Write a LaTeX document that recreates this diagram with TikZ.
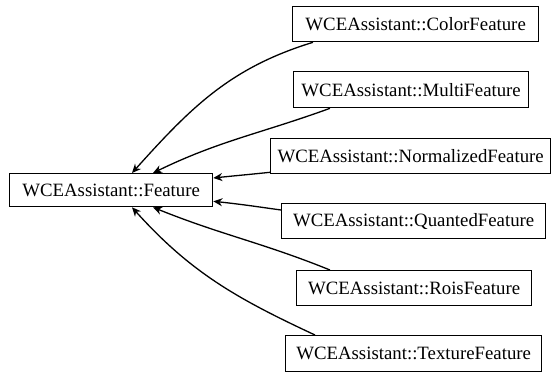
\documentclass[tikz,border=0pt]{standalone}
\usepackage{fontspec}
\setmainfont{Liberation Serif}
\usetikzlibrary{arrows.meta}
\begin{document}
\begin{tikzpicture}[x=1pt,y=-1pt,
  cls/.style={draw, line width=1.3pt, inner sep=0pt, font=\fontsize{18.8}{22}\selectfont, anchor=north west},
  inh/.style={line width=1.3pt, -{Stealth[length=9pt,width=8pt]}}]
\useasboundingbox (0,0) rectangle (557,373);
\node[cls, minimum width=203pt, minimum height=33pt] (base) at (9,173) {WCEAssistant::Feature};
\node[cls, minimum width=246pt, minimum height=35pt] (color) at (292,6) {WCEAssistant::ColorFeature};
\node[cls, minimum width=235pt, minimum height=36pt] (multi) at (293,71) {WCEAssistant::MultiFeature};
\node[cls, minimum width=280pt, minimum height=35pt] (norm) at (270,138) {WCEAssistant::NormalizedFeature};
\node[cls, minimum width=264pt, minimum height=35pt] (quant) at (281,203) {WCEAssistant::QuantedFeature};
\node[cls, minimum width=235pt, minimum height=35pt] (rois) at (296,270) {WCEAssistant::RoisFeature};
\node[cls, minimum width=256pt, minimum height=36pt] (tex) at (285,335) {WCEAssistant::TextureFeature};
\draw[inh] ([xshift=21pt]color.south west) to[out=197,in=48] ([xshift=123pt]base.north west);
\draw[inh] ([xshift=37pt]multi.south west) to[out=200,in=26] ([xshift=144pt]base.north west);
\draw[inh] ([yshift=2pt]norm.south west) to[out=186,in=6] ([yshift=-5pt]base.north east);
\draw[inh] ([yshift=-7pt]quant.north west) to[out=172,in=-6] ([yshift=6pt]base.south east);
\draw[inh] ([xshift=34pt]rois.north west) to[out=158,in=-22] ([xshift=144pt]base.south west);
\draw[inh] ([xshift=30pt]tex.north west) to[out=155,in=-48] ([xshift=123pt]base.south west);
\end{tikzpicture}
\end{document}
